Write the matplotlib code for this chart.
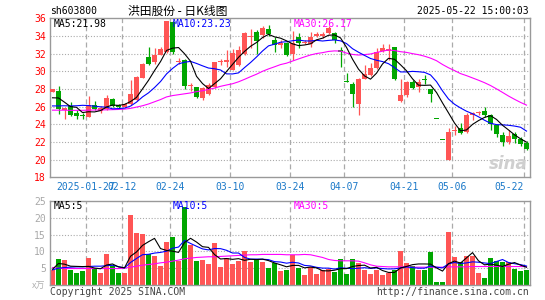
import matplotlib
matplotlib.use("Agg")
import matplotlib.pyplot as plt

plt.rcParams['font.family'] = ['DejaVu Sans Mono']
CJK = ['Noto Sans CJK SC', 'DejaVu Sans']

# ---- data (sh603800, daily, 2025-01-17 .. 2025-05-22) ----
opens = [27.7, 27.74, 25.65, 26.08, 25.28, 25.05, 24.83, 26.2, 25.47, 25.77,
         26.9, 26.15, 25.96, 26.34, 26.72, 29.25, 31.62, 31.06, 31.9, 32.19,
         35.6, 31.1, 31.25, 28.28, 28.19, 26.95, 27.43, 28.26, 31.0, 31.06,
         30.1, 30.7, 32.0, 33.9, 34.45, 34.1, 34.75, 33.6, 33.0, 33.17,
         32.0, 33.85, 33.25, 33.1, 34.05, 34.05, 34.3, 34.3, 32.45, 28.85,
         28.6, 26.34, 29.17, 29.6, 30.38, 32.26, 32.35, 32.7, 26.6, 27.3,
         28.8, 28.23, 29.1, 27.96, 24.6, 22.2, 20.0, 23.25, 23.6, 23.13,
         25.02, 25.28, 25.47, 25.1, 23.96, 22.83, 22.0, 22.94, 22.38, 21.92]
highs = [28.0, 28.34, 25.9, 26.5, 25.58, 25.3, 27.17, 26.6, 26.1, 27.28,
         26.95, 26.3, 26.4, 28.98, 29.5, 30.94, 32.75, 32.68, 32.75, 35.66,
         35.7, 31.45, 31.4, 28.65, 28.2, 28.19, 28.65, 31.1, 31.35, 32.4,
         32.57, 32.9, 34.45, 34.83, 34.64, 35.1, 35.2, 33.9, 33.6, 33.3,
         34.6, 34.3, 33.6, 34.4, 34.4, 34.5, 35.1, 34.4, 32.8, 29.8,
         28.8, 29.2, 30.7, 30.95, 32.64, 33.1, 33.1, 32.75, 29.17, 28.9,
         28.98, 29.1, 29.6, 28.0, 24.6, 22.2, 23.58, 23.77, 24.1, 25.32,
         25.4, 25.5, 25.96, 25.2, 24.0, 23.13, 23.32, 23.13, 22.57, 22.1]
lows = [27.65, 25.13, 24.6, 24.95, 24.64, 24.55, 24.8, 25.6, 25.28, 25.66,
        26.0, 25.9, 25.9, 26.15, 26.6, 29.2, 30.68, 30.87, 31.81, 32.04,
        32.0, 30.8, 28.04, 27.8, 26.95, 26.75, 27.3, 28.1, 30.7, 30.5,
        30.1, 30.6, 31.9, 32.6, 32.0, 33.77, 34.0, 32.2, 32.6, 31.74,
        31.3, 32.6, 33.1, 32.8, 33.9, 33.8, 34.2, 33.2, 30.5, 28.75,
        25.96, 25.0, 29.1, 29.5, 30.3, 32.2, 31.25, 29.05, 26.5, 27.1,
        27.96, 27.66, 28.6, 26.5, 24.6, 22.2, 19.94, 22.83, 22.95, 23.0,
        24.45, 25.0, 24.83, 23.32, 22.57, 21.55, 21.8, 21.92, 21.6, 21.05]
closes = [27.96, 25.77, 25.85, 25.09, 24.94, 24.98, 26.23, 25.77, 25.85, 26.98,
          26.08, 26.0, 26.34, 27.47, 29.36, 30.87, 30.87, 31.81, 32.57, 35.66,
          32.2, 31.2, 28.3, 28.34, 27.1, 28.1, 28.4, 31.06, 31.1, 31.25,
          32.1, 32.4, 34.38, 34.0, 33.4, 34.9, 34.2, 33.0, 33.25, 31.9,
          33.2, 33.2, 33.35, 33.9, 34.15, 34.15, 34.85, 33.55, 32.2, 28.8,
          27.47, 29.17, 29.74, 30.38, 32.2, 32.64, 32.4, 29.17, 27.28, 28.8,
          28.1, 28.8, 29.05, 27.47, 24.6, 22.2, 23.13, 23.32, 23.06, 25.1,
          25.32, 25.32, 25.1, 24.07, 22.94, 22.0, 22.68, 22.38, 21.8, 21.25]

ma5 = [27.0, 26.98, 26.5, 26.0, 25.92, 25.33, 25.42, 25.4, 25.55, 25.96,
       26.18, 26.14, 26.25, 26.57, 27.05, 28.01, 28.98, 30.08, 31.1, 32.36,
       32.62, 32.69, 31.99, 31.14, 29.43, 28.61, 28.05, 28.6, 29.15, 29.98,
       30.78, 31.58, 32.25, 32.83, 33.26, 33.82, 34.18, 33.9, 33.75, 33.45,
       33.11, 32.91, 32.98, 33.11, 33.56, 33.75, 34.08, 34.12, 33.78, 32.71,
       31.37, 30.24, 29.48, 29.11, 29.79, 30.83, 31.47, 31.36, 30.74, 30.06,
       29.15, 28.43, 28.41, 28.44, 27.6, 26.42, 25.29, 24.14, 23.26, 23.36,
       23.99, 24.42, 24.78, 24.98, 24.55, 23.89, 23.36, 22.81, 22.36, 21.98]
ma10 = [26.08, 26.08, 26.1, 26.08, 26.1, 26.15, 26.12, 26.05, 25.98, 25.94,
        25.75, 25.78, 25.83, 26.06, 26.51, 27.1, 27.56, 28.16, 28.84, 29.7,
        30.32, 30.84, 31.03, 31.12, 30.89, 30.62, 30.37, 30.29, 30.15, 29.71,
        29.7, 29.82, 30.42, 30.99, 31.62, 32.3, 32.88, 33.07, 33.29, 33.35,
        33.46, 33.54, 33.44, 33.43, 33.51, 33.43, 33.5, 33.55, 33.45, 33.14,
        32.56, 32.16, 31.8, 31.45, 31.25, 31.1, 30.86, 30.42, 29.93, 29.93,
        29.99, 29.95, 29.88, 29.59, 28.83, 27.78, 26.86, 26.27, 25.85, 25.48,
        25.2, 24.85, 24.46, 24.12, 23.96, 23.94, 23.89, 23.8, 23.67, 23.23]
ma30 = [25.6, 25.6, 25.6, 25.58, 25.58, 25.58, 25.6, 25.62, 25.62, 25.64,
        25.66, 25.68, 25.72, 25.8, 25.95, 26.1, 26.3, 26.55, 26.8, 27.1,
        27.25, 27.35, 27.45, 27.55, 27.7, 27.8, 27.95, 28.1, 28.3, 28.45,
        28.59, 28.81, 29.09, 29.39, 29.67, 30.0, 30.27, 30.51, 30.76, 30.92,
        31.16, 31.4, 31.63, 31.85, 32.01, 32.11, 32.25, 32.31, 32.29, 32.06,
        31.91, 31.84, 31.89, 31.96, 32.13, 32.28, 32.41, 32.35, 32.22, 32.14,
        32.0, 31.88, 31.71, 31.49, 31.2, 30.77, 30.4, 30.08, 29.74, 29.51,
        29.25, 28.99, 28.71, 28.39, 28.01, 27.61, 27.2, 26.83, 26.48, 26.17]

volumes = [4.4, 7.7, 7.4, 4.6, 3.6, 4.1, 8.0, 4.9, 3.6, 9.2,
           5.6, 3.6, 3.6, 20.8, 15.6, 15.3, 9.1, 8.6, 5.6, 12.8,
           14.3, 7.2, 23.3, 11.9, 7.2, 7.4, 6.2, 12.6, 5.3, 7.9,
           6.2, 7.2, 10.1, 6.9, 7.4, 6.9, 5.0, 6.6, 4.2, 4.4,
           8.9, 5.1, 2.9, 5.4, 3.2, 4.6, 4.9, 3.9, 7.7, 3.3,
           7.7, 6.4, 4.4, 3.4, 4.4, 2.9, 3.6, 4.4, 10.1, 6.6,
           5.6, 4.6, 4.4, 9.9, 0.9, 0.9, 15.7, 8.2, 6.9, 8.7,
           8.7, 3.5, 2.2, 8.0, 7.1, 6.8, 6.8, 4.7, 4.2, 4.4]
vol_ma5 = [4.7, 6.4, 6.2, 5.6, 5.54, 5.48, 5.54, 5.04, 4.84, 5.96,
           6.26, 5.38, 5.12, 8.56, 9.84, 11.78, 12.88, 13.88, 10.84, 10.28,
           10.08, 9.7, 12.64, 13.9, 12.78, 11.4, 11.2, 9.06, 7.74, 7.88,
           7.64, 7.84, 7.34, 7.66, 7.56, 7.7, 7.26, 6.56, 6.02, 5.42,
           5.82, 5.84, 5.1, 5.34, 5.1, 4.24, 4.2, 4.4, 4.86, 4.88,
           5.5, 5.8, 5.9, 5.04, 5.26, 4.3, 3.74, 3.74, 5.08, 5.52,
           6.06, 6.26, 6.26, 6.22, 5.08, 4.14, 6.36, 7.12, 6.52, 8.08,
           9.64, 7.2, 6.0, 6.22, 5.9, 5.52, 6.18, 6.68, 5.92, 5.28]
vol_ma10 = [4.5, 5.0, 5.2, 5.3, 5.4, 5.4, 5.5, 5.6, 5.6, 5.75,
            5.87, 5.46, 5.08, 6.7, 7.9, 9.02, 9.13, 9.5, 9.7, 10.06,
            10.93, 11.29, 13.26, 12.37, 11.53, 10.74, 10.45, 10.85, 10.82, 10.33,
            9.52, 9.52, 8.2, 7.7, 7.72, 7.67, 7.55, 6.95, 6.84, 6.49,
            6.76, 6.55, 5.83, 5.68, 5.26, 5.03, 5.02, 4.75, 5.1, 4.99,
            4.87, 5.0, 5.15, 4.95, 5.07, 4.9, 4.77, 4.82, 5.06, 5.39,
            5.18, 5.0, 5.0, 5.65, 5.3, 5.1, 6.31, 6.69, 6.37, 6.58,
            6.89, 6.78, 6.56, 6.37, 6.99, 7.58, 6.69, 6.34, 6.07, 5.64]
vol_ma30 = [5.2, 5.0, 4.9, 4.9, 4.9, 4.9, 4.9, 4.9, 4.9, 4.9,
            4.9, 4.9, 5.0, 5.3, 5.6, 5.9, 6.1, 6.3, 6.6, 6.8,
            7.1, 7.4, 7.8, 8.0, 8.2, 8.3, 8.4, 8.4, 8.5, 8.6,
            8.7, 8.8, 8.9, 9.0, 9.0, 9.1, 9.1, 9.1, 9.1, 9.0,
            9.0, 9.0, 9.1, 9.0, 8.6, 8.2, 7.6, 7.3, 7.2, 7.2,
            7.2, 7.1, 6.6, 6.0, 5.6, 5.5, 5.4, 5.4, 5.4, 5.4,
            5.3, 5.3, 5.3, 5.3, 5.3, 5.3, 5.4, 5.4, 5.4, 5.4,
            5.5, 5.5, 5.5, 5.5, 5.5, 5.5, 5.5, 5.5, 5.5, 5.5]

date_idx = [6, 12, 20, 30, 40, 49, 59, 67, 79]
date_labels = ["2025-01-27", "02-12", "02-24", "03-10", "03-24",
               "04-07", "04-21", "05-06", "05-22"]
price_ticks = [18, 20, 22, 24, 26, 28, 30, 32, 34, 36]
vol_ticks = [5, 10, 15, 20, 25]

RED = '#ff5555'
GREEN = '#00a600'
GRID = '#aaaaaa'
FRAME = '#999999'
DATECOL = '#1a78c8'

W, H = 545, 300
fig = plt.figure(figsize=(W / 100, H / 100), dpi=100)


def fx(x):
    return x / W


def fy(y):
    return 1 - y / H


ax = fig.add_axes([fx(50), fy(177.3), 480 / W, 159 / H])
axv = fig.add_axes([fx(50), fy(285), 480 / W, 84 / H])

n = len(closes)
idx = list(range(n))
colors = []
for i in idx:
    if closes[i] > opens[i]:
        colors.append(RED)
    elif closes[i] < opens[i]:
        colors.append(GREEN)
    else:
        colors.append(RED if i > 0 and closes[i] >= closes[i - 1] else GREEN)

# grids
for a in (ax, axv):
    for g in date_idx:
        a.axvline(g - 0.4, color=GRID, lw=0.9, ls=(0, (4, 2.5)), zorder=0)
    for s in a.spines.values():
        s.set_color(FRAME)
        s.set_linewidth(1.0)
    a.set_xlim(-0.42, 79.58)
    a.set_xticks([])
for v in price_ticks[1:-1]:
    ax.axhline(v, color=GRID, lw=0.8, ls=(0, (1, 1.6)), zorder=0)
for v in vol_ticks[:-1]:
    axv.axhline(v, color=GRID, lw=0.8, ls=(0, (1, 1.6)), zorder=0)

# candles
ax.vlines(idx, lows, highs, colors=colors, lw=0.9, zorder=2)
bottoms = [min(o, c) for o, c in zip(opens, closes)]
heights = [max(abs(c - o), 0.12) for o, c in zip(opens, closes)]
ax.bar(idx, heights, bottom=bottoms, width=0.8, color=colors, lw=0, zorder=3)
ax.plot(idx, ma30, color='#ff00ff', lw=0.8, zorder=4)
ax.plot(idx, ma10, color='#0000ff', lw=0.8, zorder=4)
ax.plot(idx, ma5, color='black', lw=0.8, zorder=5)
ax.set_ylim(18, 36)
ax.set_yticks(price_ticks)
ax.tick_params(axis='y', length=0, pad=3, labelcolor='red', labelsize=7)

for g, lab in zip(date_idx, date_labels):
    ax.text(g - 0.4, -0.061, lab, transform=ax.get_xaxis_transform(),
            ha='right' if g == date_idx[-1] else 'center', va='center',
            color=DATECOL, fontsize=7, clip_on=False)

ax.text(0.995, 0.03, 'sina', transform=ax.transAxes, ha='right', va='bottom',
        fontsize=12, fontstyle='italic', fontweight='bold', color='#cfcfcf',
        family='DejaVu Sans', zorder=1)

# volume
axv.bar(idx, volumes, width=0.8, color=colors, lw=0, zorder=2)
axv.plot(idx, vol_ma30, color='#ff00ff', lw=0.8, zorder=4)
axv.plot(idx, vol_ma10, color='#0000ff', lw=0.8, zorder=4)
axv.plot(idx, vol_ma5, color='black', lw=0.8, zorder=5)
axv.set_ylim(0, 25)
axv.set_yticks(vol_ticks)
axv.tick_params(axis='y', length=0, pad=3, labelcolor='#a8a8a8', labelsize=7)

# header / legend texts
fig.text(fx(50), fy(11), 'sh603800', ha='left', va='center', fontsize=7)
fig.text(fx(178), fy(11), '洪田股份 - 日K线图', ha='center', va='center',
         fontsize=8.5, family=CJK)
fig.text(fx(529), fy(11), '2025-05-22 15:00:03', ha='right', va='center', fontsize=7)

fig.text(fx(54), fy(24), 'MA5:21.98', ha='left', va='center', fontsize=7, color='black')
fig.text(fx(173), fy(24), 'MA10:23.23', ha='left', va='center', fontsize=7, color='#0000ff')
fig.text(fx(294), fy(24), 'MA30:26.17', ha='left', va='center', fontsize=7, color='#ff00ff')

fig.text(fx(54), fy(206), 'MA5:5', ha='left', va='center', fontsize=7, color='black')
fig.text(fx(173), fy(206), 'MA10:5', ha='left', va='center', fontsize=7, color='#0000ff')
fig.text(fx(294), fy(206), 'MA30:5', ha='left', va='center', fontsize=7, color='#ff00ff')

fig.text(fx(45), fy(286), 'x万', ha='right', va='center', fontsize=6.5,
         color='#b0b0b0', family=CJK)
fig.text(fx(50), fy(292), 'Copyright 2025 SINA.COM', ha='left', va='center',
         fontsize=7, color='#444444')
fig.text(fx(529), fy(292), 'http://finance.sina.com.cn', ha='right', va='center',
         fontsize=7, color='#444444')

fig.savefig('out.png', dpi=100)
